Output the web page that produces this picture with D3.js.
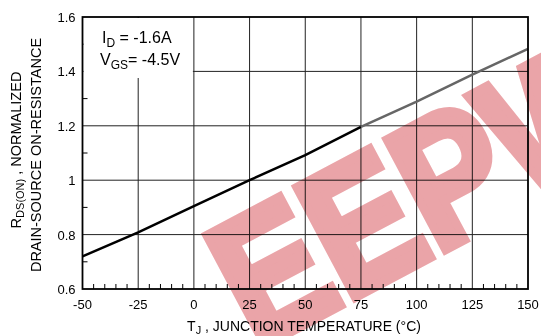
<!DOCTYPE html>
<html>
<head>
<meta charset="utf-8">
<script src="https://cdn.jsdelivr.net/npm/d3@7"></script>
<style>
  html, body { margin: 0; padding: 0; background: #fff; }
  svg { display: block; font-family: "Liberation Sans", Arial, sans-serif; }
</style>
</head>
<body>
<div id="chart"></div>
<script>
// Normalized on-resistance vs junction temperature
const temps = [-50, -25, 0, 25, 50, 75, 100, 125, 150];
const rdsNorm = [0.72, 0.808, 0.905, 1.0, 1.092, 1.196, 1.289, 1.388, 1.483];
const xTicks = [-50, -25, 0, 25, 50, 75, 100, 125, 150];
const yTicks = [0.6, 0.8, 1, 1.2, 1.4, 1.6];
const splitTemp = 75; // curve turns grey past here

const width = 541, height = 336;
const margin = { left: 82.5, right: 13, top: 17, bottom: 47 };

const svg = d3.select('#chart').append('svg')
  .attr('width', width)
  .attr('height', height);

const x = d3.scaleLinear().domain([-50, 150]).range([margin.left, width - margin.right]);
const y = d3.scaleLinear().domain([0.6, 1.6]).range([height - margin.bottom, margin.top]);

const g = svg.append('g');

// grid
g.selectAll('line.vgrid')
  .data(xTicks.slice(1, -1))
  .join('line')
  .attr('x1', d => x(d)).attr('x2', d => x(d))
  .attr('y1', y(1.6)).attr('y2', y(0.6))
  .attr('stroke', '#222').attr('stroke-width', 1);

g.selectAll('line.hgrid')
  .data(yTicks.slice(1, -1))
  .join('line')
  .attr('x1', x(-50)).attr('x2', x(150))
  .attr('y1', d => y(d)).attr('y2', d => y(d))
  .attr('stroke', '#222').attr('stroke-width', 1);

// minor ticks
const xMinor = d3.range(-50, 151, 5).filter(d => d % 25 !== 0);
g.selectAll('line.xminor')
  .data(xMinor)
  .join('line')
  .attr('x1', d => x(d)).attr('x2', d => x(d))
  .attr('y1', y(0.6)).attr('y2', y(0.6) - 5)
  .attr('stroke', '#000');

const yMinor = [0.7, 0.9, 1.1, 1.3, 1.5];
g.selectAll('line.yminor')
  .data(yMinor)
  .join('line')
  .attr('x1', x(-50)).attr('x2', x(-50) + 5)
  .attr('y1', d => y(d)).attr('y2', d => y(d))
  .attr('stroke', '#000');

// annotation box
g.append('rect')
  .attr('x', x(-50) + 1).attr('y', y(1.6) + 1)
  .attr('width', x(0) - x(-50) - 2).attr('height', 60)
  .attr('fill', '#fff');

const ann = g.append('g').attr('font-size', 16).attr('fill', '#000');
const t1 = ann.append('text').attr('x', 102).attr('y', 43);
t1.append('tspan').text('I');
t1.append('tspan').attr('font-size', 12).attr('dy', 4).text('D');
t1.append('tspan').attr('dy', -4).text(' = -1.6A');
const t2 = ann.append('text').attr('x', 100).attr('y', 65);
t2.append('tspan').text('V');
t2.append('tspan').attr('font-size', 12).attr('dy', 4).text('GS');
t2.append('tspan').attr('dy', -4).text('= -4.5V');

// curve
const pts = temps.map((t, i) => ({ t, v: rdsNorm[i] }));
const line = d3.line().x(d => x(d.t)).y(d => y(d.v));
g.append('path')
  .datum(pts.filter(d => d.t <= splitTemp))
  .attr('d', line)
  .attr('fill', 'none').attr('stroke', '#000').attr('stroke-width', 2.5);
g.append('path')
  .datum(pts.filter(d => d.t >= splitTemp))
  .attr('d', line)
  .attr('fill', 'none').attr('stroke', '#666').attr('stroke-width', 2.5);

// frame
g.append('rect')
  .attr('x', x(-50)).attr('y', y(1.6))
  .attr('width', x(150) - x(-50)).attr('height', y(0.6) - y(1.6))
  .attr('fill', 'none').attr('stroke', '#000').attr('stroke-width', 1.8);

// tick labels
g.selectAll('text.xlab')
  .data(xTicks)
  .join('text')
  .attr('x', d => x(d)).attr('y', y(0.6) + 20)
  .attr('text-anchor', 'middle').attr('font-size', 13)
  .text(d => d);

g.selectAll('text.ylab')
  .data(yTicks)
  .join('text')
  .attr('x', x(-50) - 7).attr('y', d => y(d) + 5)
  .attr('text-anchor', 'end').attr('font-size', 13)
  .text(d => d3.format('~g')(d));

// axis titles
const xt = svg.append('text')
  .attr('x', 304).attr('y', 331)
  .attr('text-anchor', 'middle').attr('font-size', 14);
xt.append('tspan').text('T');
xt.append('tspan').attr('font-size', 11).attr('dy', 3).text('J');
xt.append('tspan').attr('dy', -3).text(' , JUNCTION TEMPERATURE (°C)');

const yt1 = svg.append('text')
  .attr('transform', 'translate(21,150) rotate(-90)')
  .attr('text-anchor', 'middle').attr('font-size', 14.5);
yt1.append('tspan').text('R');
yt1.append('tspan').attr('font-size', 11).attr('dy', 3).text('DS(ON)');
yt1.append('tspan').attr('dy', -3).text(' , NORMALIZED');

svg.append('text')
  .attr('transform', 'translate(41,155) rotate(-90)')
  .attr('text-anchor', 'middle').attr('font-size', 14.5)
  .text('DRAIN-SOURCE ON-RESISTANCE');

// watermark
svg.append('text')
  .attr('transform', 'translate(256,350) rotate(-28) scale(0.85,1)')
  .attr('font-size', 180).attr('font-weight', 'bold')
  .attr('fill', '#eaa4a8')
  .attr('stroke', '#eaa4a8').attr('stroke-width', 10)
  .attr('stroke-linejoin', 'miter')
  .style('mix-blend-mode', 'multiply')
  .text('EEPW');
</script>
</body>
</html>
